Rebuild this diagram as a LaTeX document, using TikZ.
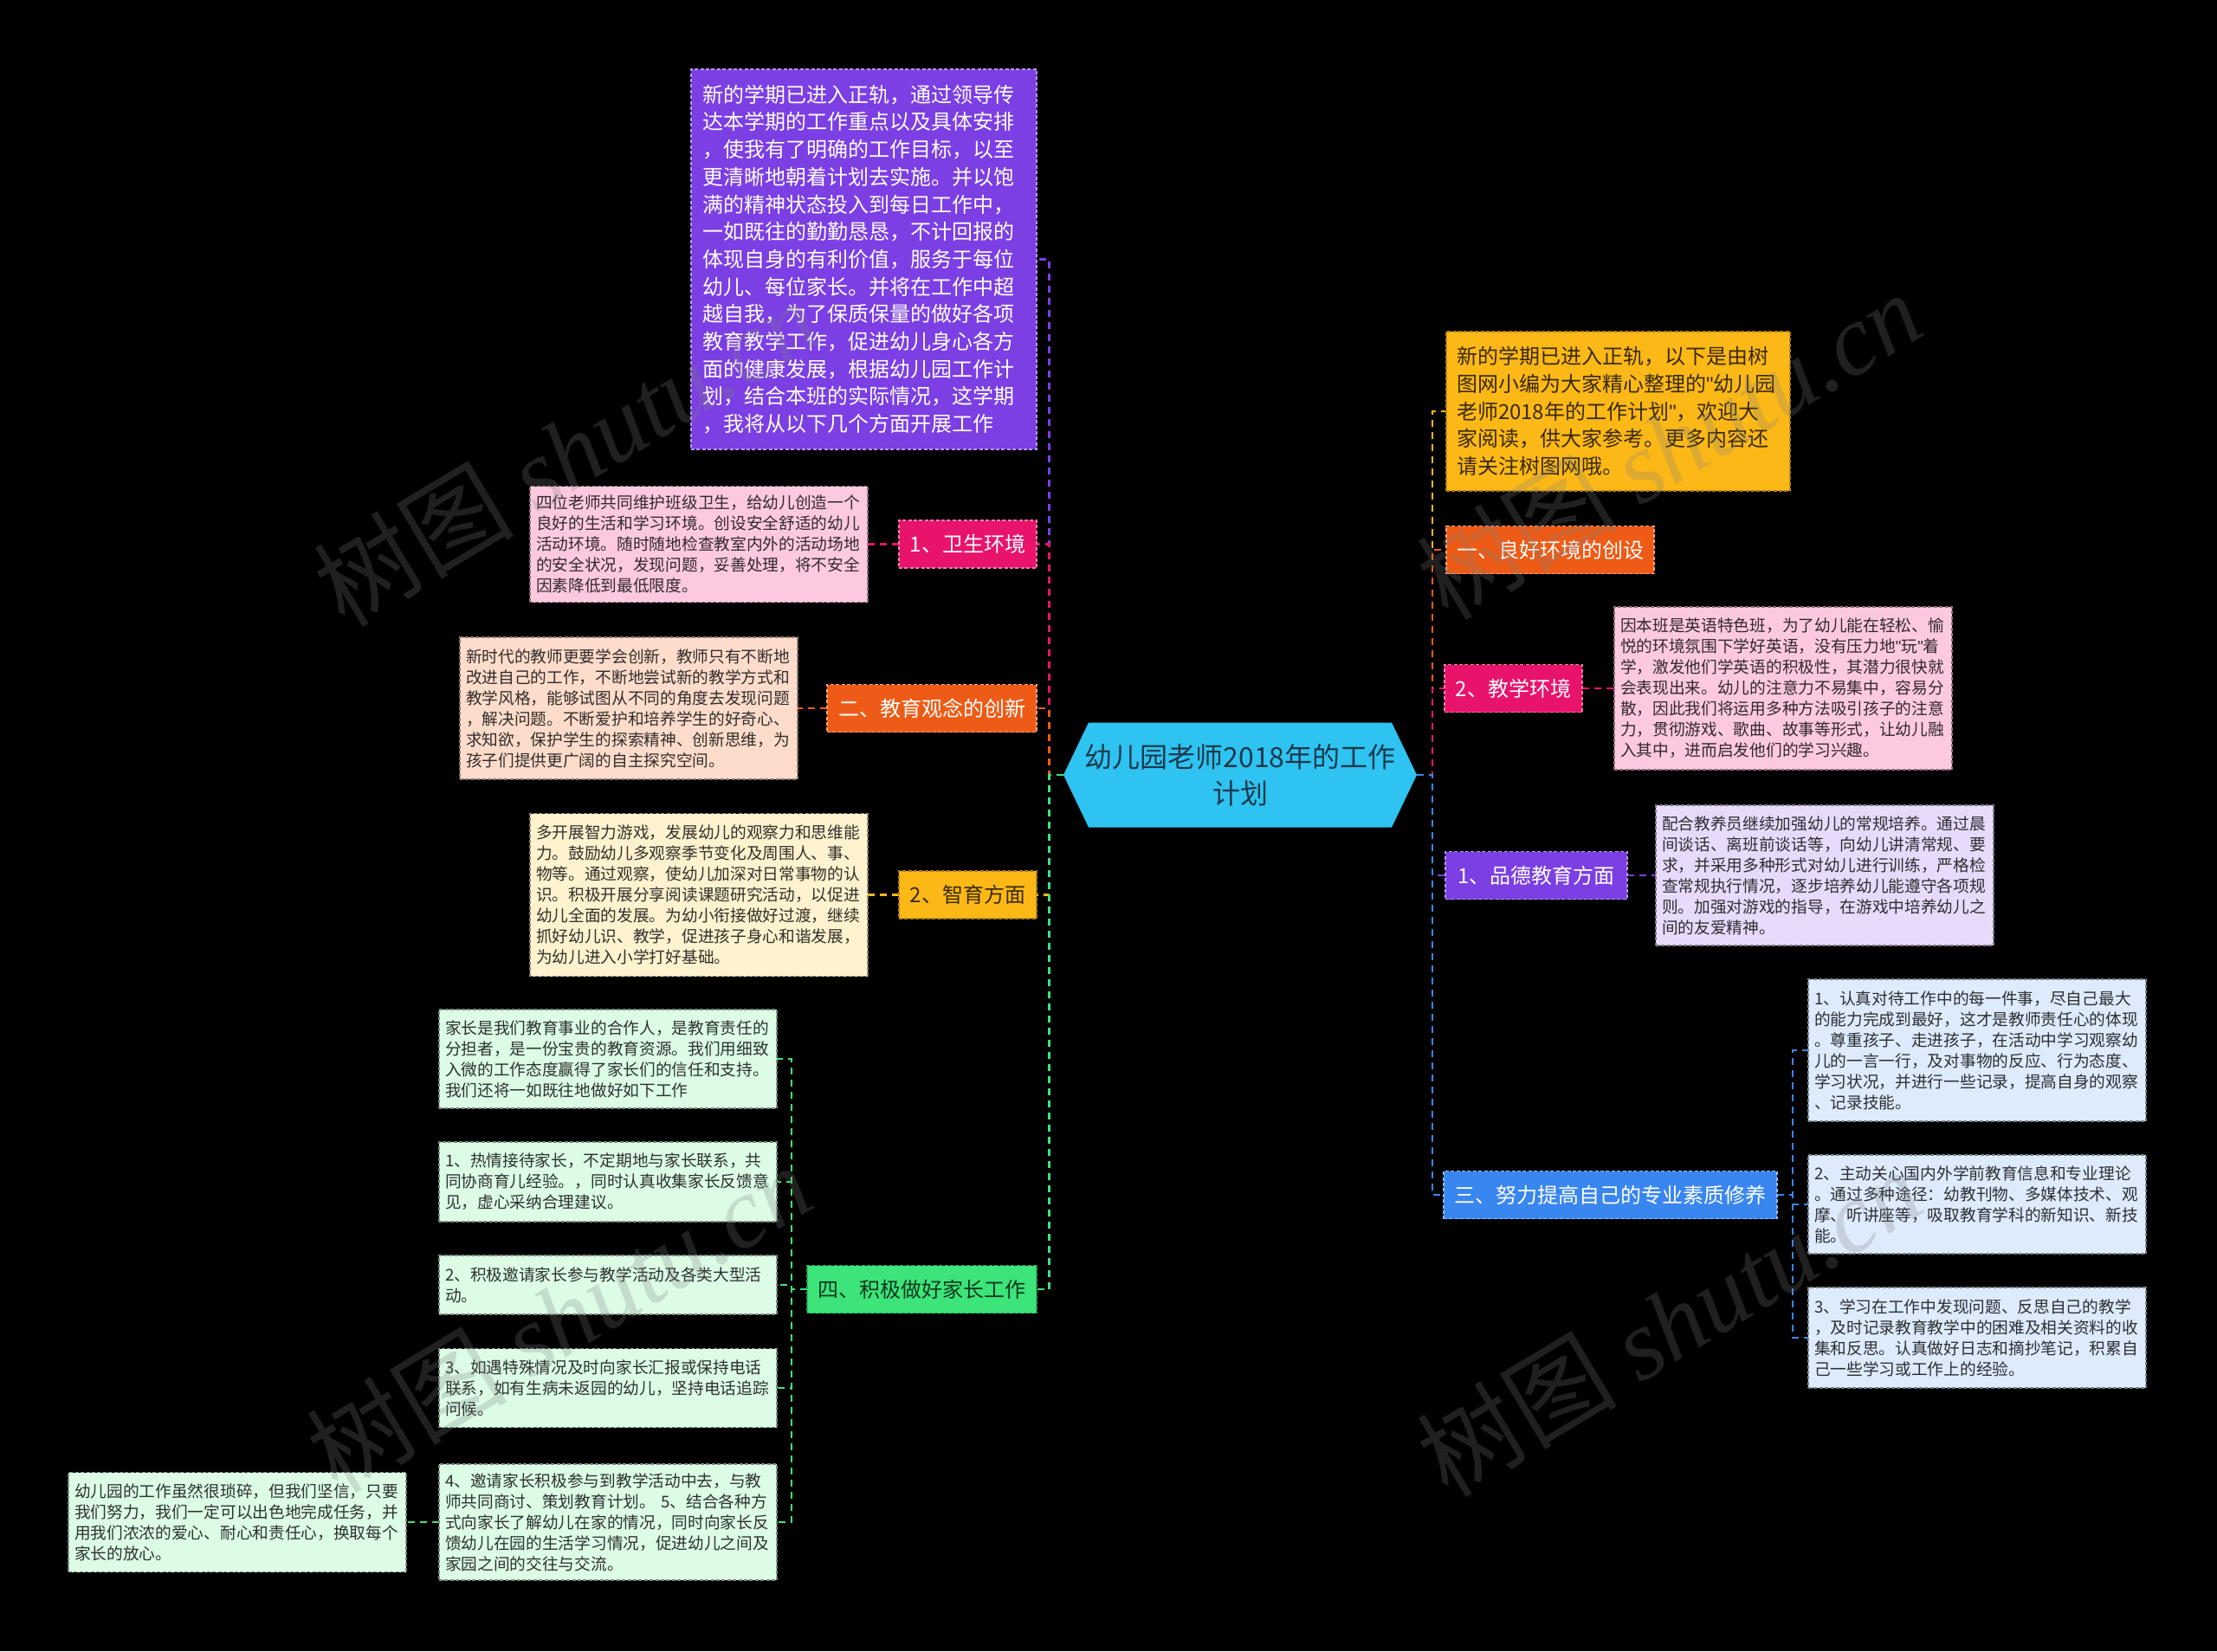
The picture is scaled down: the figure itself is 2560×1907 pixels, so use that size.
\documentclass[tikz,border=0pt]{standalone}
\usepackage{fontspec}
\setmainfont{Noto Sans CJK SC}
\newfontfamily\wmserif{Liberation Serif}
\newfontfamily\plainq{Liberation Sans}
\newcommand\qt{{\plainq\symbol{34}}}
\usetikzlibrary{calc}
\pgfdeclarelayer{bg}\pgfdeclarelayer{edges}\pgfdeclarelayer{wm}
\pgfsetlayers{bg,edges,main,wm}
\definecolor{cPurple}{HTML}{7B3FE4}
\definecolor{cPink}{HTML}{E8146C}
\definecolor{cOrange}{HTML}{EE5B16}
\definecolor{cYellow}{HTML}{FBB817}
\definecolor{cGreen}{HTML}{3DE47A}
\definecolor{cBlue}{HTML}{3A86F0}
\definecolor{cCyan}{HTML}{2FC3F2}
\definecolor{lPink}{HTML}{FCC9E0}
\definecolor{lPeach}{HTML}{FDDCCB}
\definecolor{lCream}{HTML}{FEF2CF}
\definecolor{lGreen}{HTML}{DCFCE6}
\definecolor{lLav}{HTML}{E8DAFA}
\definecolor{lBlue}{HTML}{DDEBFC}
\definecolor{rootText}{HTML}{1A3A4C}
\definecolor{yText}{HTML}{3A2A05}
\tikzset{
  every node/.style={outer sep=0pt},
  box/.style={rectangle, inner sep=0pt, line width=0.6pt, dash pattern=on 2pt off 1.2pt},
  branch/.style={box, font=\fontsize{12}{15}\selectfont, minimum height=27.5pt},
  branchD/.style={branch, fill=#1, draw=#1!55!white, text=white},
  branchL/.style={branch, fill=#1, draw=#1!70!black, text=#1!25!black},
  desc/.style={box, font=\fontsize{9.35}{12}\selectfont, align=left, text width=188pt, minimum width=195pt, fill=#1, draw=#1!55!black, text=#1!20!black},
  intro/.style={box, font=\fontsize{12}{15.85}\selectfont, align=left, text width=186.5pt},
  link/.style={draw=#1, line width=1.1pt, dash pattern=on 4pt off 3pt},
  wmark/.style={text=gray, opacity=0.25, rotate=31, font=\fontsize{58}{60}\selectfont, inner sep=0pt}
}
\begin{document}
\begin{tikzpicture}[x=0.5pt,y=-0.5pt]
\begin{pgfonlayer}{bg}
\fill[black] (0,0) rectangle (2560,1907);
\end{pgfonlayer}
\useasboundingbox (0,0) rectangle (2560,1907);

% central
\node[font=\fontsize{16}{21}\selectfont, align=center, text=rootText, minimum width=204pt, minimum height=60.5pt, inner sep=0pt] (root) at (1432,895) {幼儿园老师2018年的工作\\计划};
\begin{pgfonlayer}{edges}
\fill[cCyan] (root.west) -- ([xshift=14.5pt]root.north west) -- ([xshift=-14.5pt]root.north east) -- (root.east) -- ([xshift=-14.5pt]root.south east) -- ([xshift=14.5pt]root.south west) -- cycle;
\end{pgfonlayer}

% left side
\node[intro, fill=cPurple, draw=cPurple!55!white, text=white, minimum width=199.5pt, minimum height=219.5pt] (intro) at (997.5,299.5) {新的学期已进入正轨，通过领导传\\达本学期的工作重点以及具体安排\\，使我有了明确的工作目标，以至\\更清晰地朝着计划去实施。并以饱\\满的精神状态投入到每日工作中，\\一如既往的勤勤恳恳，不计回报的\\体现自身的有利价值，服务于每位\\幼儿、每位家长。并将在工作中超\\越自我，为了保质保量的做好各项\\教育教学工作，促进幼儿身心各方\\面的健康发展，根据幼儿园工作计\\划，结合本班的实际情况，这学期\\，我将从以下几个方面开展工作};

\node[branchD=cPink, minimum width=79.5pt] (n1) at (1117.5,628.5) {1、卫生环境};
\node[desc=lPink, minimum height=67pt] (d1) at (807,628.5) {四位老师共同维护班级卫生，给幼儿创造一个\\良好的生活和学习环境。创设安全舒适的幼儿\\活动环境。随时随地检查教室内外的活动场地\\的安全状况，发现问题，妥善处理，将不安全\\因素降低到最低限度。};

\node[branchD=cOrange, minimum width=121pt] (n2) at (1076,818) {二、教育观念的创新};
\node[desc=lPeach, minimum height=82pt] (d2) at (726,818) {新时代的教师更要学会创新，教师只有不断地\\改进自己的工作，不断地尝试新的教学方式和\\教学风格，能够试图从不同的角度去发现问题\\，解决问题。不断爱护和培养学生的好奇心、\\求知欲，保护学生的探索精神、创新思维，为\\孩子们提供更广阔的自主探究空间。};

\node[branchL=cYellow, minimum width=79.5pt, text=yText] (n3) at (1117.5,1033.5) {2、智育方面};
\node[desc=lCream, minimum height=94pt] (d3) at (807,1033.5) {多开展智力游戏，发展幼儿的观察力和思维能\\力。鼓励幼儿多观察季节变化及周围人、事、\\物等。通过观察，使幼儿加深对日常事物的认\\识。积极开展分享阅读课题研究活动，以促进\\幼儿全面的发展。为幼小衔接做好过渡，继续\\抓好幼儿识、教学，促进孩子身心和谐发展，\\为幼儿进入小学打好基础。};

\node[branchL=cGreen, minimum width=132.5pt] (n4) at (1064.5,1489) {四、积极做好家长工作};
\node[desc=lGreen, minimum height=57pt] (gA) at (702,1223) {家长是我们教育事业的合作人，是教育责任的\\分担者，是一份宝贵的教育资源。我们用细致\\入微的工作态度赢得了家长们的信任和支持。\\我们还将一如既往地做好如下工作};
\node[desc=lGreen, minimum height=46pt] (gB) at (702,1365) {1、热情接待家长，不定期地与家长联系，共\\同协商育儿经验。，同时认真收集家长反馈意\\见，虚心采纳合理建议。};
\node[desc=lGreen, minimum height=34pt] (gC) at (702,1484) {2、积极邀请家长参与教学活动及各类大型活\\动。};
\node[desc=lGreen, minimum height=45.5pt] (gD) at (702,1603) {3、如遇特殊情况及时向家长汇报或保持电话\\联系，如有生病未返园的幼儿，坚持电话追踪\\问候。};
\node[desc=lGreen, minimum height=67pt] (gE) at (702,1758) {4、邀请家长积极参与到教学活动中去，与教\\师共同商讨、策划教育计划。 5、结合各种方\\式向家长了解幼儿在家的情况，同时向家长反\\馈幼儿在园的生活学习情况，促进幼儿之间及\\家园之间的交往与交流。};
\node[desc=lGreen, minimum height=57.5pt] (gF) at (274,1758) {幼儿园的工作虽然很琐碎，但我们坚信，只要\\我们努力，我们一定可以出色地完成任务，并\\用我们浓浓的爱心、耐心和责任心，换取每个\\家长的放心。};

% right side
\node[intro, fill=cYellow, draw=cYellow!70!black, text=yText, minimum width=198.5pt, minimum height=92pt] (rintro) at (1868.5,475) {新的学期已进入正轨，以下是由树\\图网小编为大家精心整理的\qt 幼儿园\\老师2018年的工作计划\qt ，欢迎大\\家阅读，供大家参考。更多内容还\\请关注树图网哦。};
\node[branchD=cOrange, minimum width=120pt] (r1) at (1790,635) {一、良好环境的创设};
\node[branchD=cPink, minimum width=79.5pt] (r2) at (1747.5,795) {2、教学环境};
\node[desc=lPink, minimum height=94pt] (rd2) at (2059,795) {因本班是英语特色班，为了幼儿能在轻松、愉\\悦的环境氛围下学好英语，没有压力地\qt 玩\qt 着\\学，激发他们学英语的积极性，其潜力很快就\\会表现出来。幼儿的注意力不易集中，容易分\\散，因此我们将运用多种方法吸引孩子的注意\\力，贯彻游戏、歌曲、故事等形式，让幼儿融\\入其中，进而启发他们的学习兴趣。};
\node[branchD=cPurple, minimum width=105pt] (r3) at (1774,1011) {1、品德教育方面};
\node[desc=lLav, minimum height=81pt] (rd3) at (2107,1011) {配合教养员继续加强幼儿的常规培养。通过晨\\间谈话、离班前谈话等，向幼儿讲清常规、要\\求，并采用多种形式对幼儿进行训练，严格检\\查常规执行情况，逐步培养幼儿能遵守各项规\\则。加强对游戏的指导，在游戏中培养幼儿之\\间的友爱精神。};
\node[branchD=cBlue, minimum width=192.5pt] (r4) at (1859.5,1380) {三、努力提高自己的专业素质修养};
\node[desc=lBlue, minimum height=82pt] (b1) at (2283,1213) {1、认真对待工作中的每一件事，尽自己最大\\的能力完成到最好，这才是教师责任心的体现\\。尊重孩子、走进孩子，在活动中学习观察幼\\儿的一言一行，及对事物的反应、行为态度、\\学习状况，并进行一些记录，提高自身的观察\\、记录技能。};
\node[desc=lBlue, minimum height=57pt] (b2) at (2283,1391) {2、主动关心国内外学前教育信息和专业理论\\。通过多种途径：幼教刊物、多媒体技术、观\\摩、听讲座等，吸取教育学科的新知识、新技\\能。};
\node[desc=lBlue, minimum height=58pt] (b3) at (2283,1545) {3、学习在工作中发现问题、反思自己的教学\\，及时记录教育教学中的困难及相关资料的收\\集和反思。认真做好日志和摘抄笔记，积累自\\己一些学习或工作上的经验。};

% connectors
\begin{pgfonlayer}{edges}
\draw[link=cPurple] (root.west) -- ++(-16.5,0) |- (intro.east);
\draw[link=cPink] (root.west) -- ++(-16.5,0) |- (n1.east);
\draw[link=cOrange] (root.west) -- ++(-16.5,0) |- (n2.east);
\draw[link=cYellow] (root.west) -- ++(-16.5,0) |- (n3.east);
\draw[link=cGreen] (root.west) -- ++(-16.5,0) |- (n4.east);
\draw[link=cPink] (n1.west) -- (d1.east);
\draw[link=cOrange] (n2.west) -- (d2.east);
\draw[link=cYellow] (n3.west) -- (d3.east);
\foreach \c in {gA,gB,gC,gD,gE} \draw[link=cGreen] (n4.west) -- ++(-18,0) |- (\c.east);
\draw[link=cGreen] (gE.west) -- (gF.east);
\draw[link=cYellow] (root.east) -- ++(18,0) |- (rintro.west);
\draw[link=cOrange] (root.east) -- ++(18,0) |- (r1.west);
\draw[link=cPink] (root.east) -- ++(18,0) |- (r2.west);
\draw[link=cPurple] (root.east) -- ++(18,0) |- (r3.west);
\draw[link=cBlue] (root.east) -- ++(18,0) |- (r4.west);
\draw[link=cPink] (r2.east) -- (rd2.west);
\draw[link=cPurple] (r3.east) -- (rd3.west);
\foreach \c in {b1,b2,b3} \draw[link=cBlue] (r4.east) -- ++(18,0) |- (\c.west);
\end{pgfonlayer}

% watermarks
\begin{pgfonlayer}{wm}
\node[wmark] (w1) at (653,522) {树图 {\wmserif\itshape shutu.cn}};
\node[wmark] (w2) at (1927,514) {树图 {\wmserif\itshape shutu.cn}};
\node[wmark] (w3) at (645,1522) {树图 {\wmserif\itshape shutu.cn}};
\node[wmark] (w4) at (1927,1527) {树图 {\wmserif\itshape shutu.cn}};
\end{pgfonlayer}
\end{tikzpicture}
\end{document}
